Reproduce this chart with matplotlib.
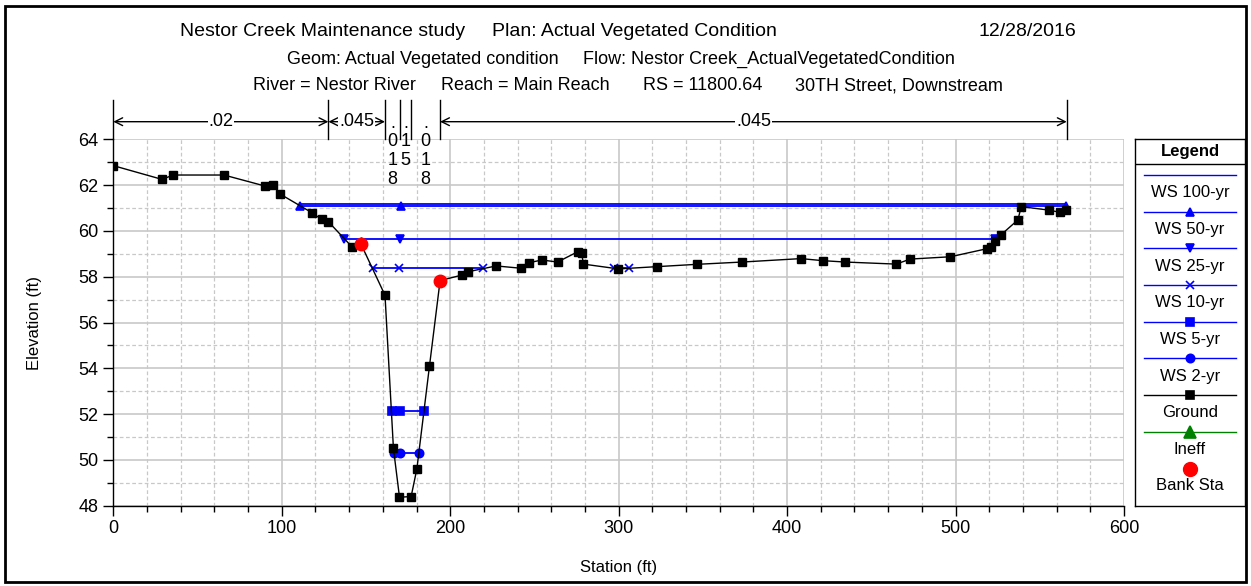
import matplotlib
matplotlib.use("Agg")
import matplotlib.pyplot as plt
from matplotlib.patches import Rectangle
from matplotlib.ticker import MultipleLocator

plt.rcParams['font.family'] = ['Liberation Sans', 'DejaVu Sans']

W, H = 1251, 586

# ground survey points (station ft, elevation ft)
ground_sta = [0, 28.9, 35.6, 65.7, 90, 95, 99, 117.8, 123.7, 127.7, 141.6, 147, 161.3,
              166.3, 169.9, 176.8, 180.2, 187.7, 194, 206.9, 210.8, 227.3, 241.9, 246.8,
              254.4, 263.7, 276, 278, 279.1, 299.9, 323, 346.4, 373.2, 408.2, 421.3, 434.5,
              464.8, 473.1, 496.9, 518.5, 521, 523.5, 527, 537, 539, 555.2, 562.2, 565.7]
ground_elev = [62.85, 62.25, 62.44, 62.44, 61.96, 62.0, 61.61, 60.8, 60.5, 60.4, 59.31, 59.43, 57.19,
               50.5, 48.37, 48.4, 49.6, 54.1, 57.83, 58.07, 58.22, 58.47, 58.37, 58.61,
               58.73, 58.64, 59.1, 59.03, 58.55, 58.34, 58.44, 58.54, 58.64, 58.79, 58.7, 58.64,
               58.55, 58.77, 58.87, 59.22, 59.3, 59.55, 59.83, 60.48, 61.06, 60.91, 60.81, 60.91]

bank_sta = [147, 194]
bank_elev = [59.43, 57.83]
ineff_sta = [147]
ineff_elev = [59.5]

# water surface profiles
ws_names = ['WS 100-yr', 'WS 50-yr', 'WS 25-yr', 'WS 10-yr', 'WS 5-yr', 'WS 2-yr']
ws_elev = [61.17, 61.10, 59.64, 58.37, 52.14, 50.31]
ws_segments = [
    [(111, 565.7)],
    [(111, 565.7)],
    [(137.2, 523.6)],
    [(154, 219.7), (297.5, 306.4)],
    [(165.3, 184.5)],
    [(166.9, 181.5)],
]
ws_marker_sta = [
    [],
    [111, 170.5, 565.7],
    [137.2, 170.3, 523.6],
    [154, 169.8, 219.7, 297.5, 306.4],
    [165.3, 170.2, 184.5],
    [166.9, 170.2, 181.5],
]
ws_markers = [None, '^', 'v', 'x', 's', 'o']

# Manning's n regions
n_breaks = [0, 127.7, 161.3, 170.2, 176.8, 194, 566]
n_labels = ['.02', '.045', '.018', '.15', '.018', '.045']

fig = plt.figure(figsize=(W / 100, H / 100), dpi=100)


def fx(px):
    return px / W


def fy(py):
    return 1 - py / H


ax = fig.add_axes([fx(113.3), fy(505.7), fx(1124) - fx(113.3), fy(139.3) - fy(505.7)])
ax.set_xlim(0, 600)
ax.set_ylim(48, 64)
ax.xaxis.set_major_locator(MultipleLocator(100))
ax.xaxis.set_minor_locator(MultipleLocator(20))
ax.yaxis.set_major_locator(MultipleLocator(2))
ax.yaxis.set_minor_locator(MultipleLocator(1))
ax.grid(which='major', color='#c8c8c8', lw=1.2, ls='-')
ax.grid(which='minor', color='#c8c8c8', lw=0.9, ls=(0, (3, 2)))
ax.set_axisbelow(True)
for s in ['top', 'right']:
    ax.spines[s].set_visible(False)
ax.spines['left'].set_linewidth(1.0)
ax.spines['bottom'].set_linewidth(1.0)
ax.tick_params(which='major', direction='out', length=7, width=1, labelsize=13)
ax.tick_params(which='minor', direction='out', length=4, width=1)
ax.set_xlabel('Station (ft)', fontsize=12, labelpad=16)
ax.set_ylabel('Elevation (ft)', fontsize=12, labelpad=26)

blue = '#0000ff'
for name, e, segs, msta, mk in zip(ws_names, ws_elev, ws_segments, ws_marker_sta, ws_markers):
    for a, b in segs:
        ax.plot([a, b], [e, e], color=blue, lw=1.3, zorder=3)
    if mk:
        ax.plot(msta, [e] * len(msta), ls='none', marker=mk, color=blue,
                ms=6, mew=1.2, zorder=4)

ax.plot(ground_sta, ground_elev, color='black', lw=1.0, marker='s', ms=5.5, zorder=5)
ax.plot(ineff_sta, ineff_elev, ls='none', marker='^', color='green', ms=7, zorder=5)
ax.plot(bank_sta, bank_elev, ls='none', marker='o', color='red', ms=9, zorder=6)


# Manning's n bar above the plot
def ey(py):
    return 64 + (139.3 - py) / 22.9


for b in n_breaks:
    ax.plot([b, b], [ey(100), 64], color='black', lw=1.0, clip_on=False)
for (a, b), lab in zip(zip(n_breaks[:-1], n_breaks[1:]), n_labels):
    mid = (a + b) / 2
    if b - a > 20:
        ax.annotate('', xy=(a, ey(121.7)), xytext=(b, ey(121.7)), annotation_clip=False,
                    arrowprops=dict(arrowstyle='<->', color='black', lw=1.0,
                                    shrinkA=0, shrinkB=0, mutation_scale=14))
        ax.text(mid, ey(121.7), lab, ha='center', va='center', fontsize=13, clip_on=False,
                bbox=dict(facecolor='white', edgecolor='none', pad=0.5))
    else:
        ax.text(mid, ey(127.5), lab[0], ha='center', va='baseline', fontsize=13, clip_on=False)
        for k, ch in enumerate(lab[1:]):
            ax.text(mid, ey(141.7 + 18.7 * k), ch, ha='center', va='center',
                    fontsize=13, clip_on=False)

# header lines
fig.text(fx(180), fy(31), 'Nestor Creek Maintenance study', fontsize=14, va='center')
fig.text(fx(492), fy(31), 'Plan: Actual Vegetated Condition', fontsize=14, va='center')
fig.text(fx(1076), fy(31), '12/28/2016', fontsize=14, va='center', ha='right')
fig.text(fx(287), fy(59), 'Geom: Actual Vegetated condition', fontsize=13, va='center')
fig.text(fx(955), fy(59), 'Flow: Nestor Creek_ActualVegetatedCondition', fontsize=13,
         va='center', ha='right')
fig.text(fx(334.5), fy(86), 'River = Nestor River', fontsize=13, va='center', ha='center')
fig.text(fx(525), fy(86), 'Reach = Main Reach', fontsize=13, va='center', ha='center')
fig.text(fx(703), fy(86), 'RS = 11800.64', fontsize=13, va='center', ha='center')
fig.text(fx(899), fy(86), '30TH Street, Downstream', fontsize=13, va='center', ha='center')

# legend panel
lg = fig.add_axes([fx(1135), fy(506), fx(1245) - fx(1135), fy(139.3) - fy(506)])
lg.set_xlim(1135, 1245)
lg.set_ylim(506, 139.3)
lg.set_xticks([])
lg.set_yticks([])
for s in lg.spines.values():
    s.set_linewidth(1.0)
lg.axhline(164.3, color='black', lw=1.0)
lg.text(1190, 151.5, 'Legend', ha='center', va='center', fontsize=12, fontweight='bold')
entries = list(zip(ws_names, ws_markers, [blue] * 6)) + [('Ground', 's', 'black'), ('Ineff', '^', 'green')]
for i, (name, mk, col) in enumerate(entries):
    yl = 175 + 36.7 * i
    lg.plot([1144, 1236], [yl, yl], color=col, lw=1.0)
    if mk:
        ms = 9 if name == 'Ineff' else 6
        lg.plot([1190], [yl], marker=mk, color=col, ms=ms, mew=1.2)
    lg.text(1190, yl + 17.7, name, ha='center', va='center', fontsize=12)
lg.plot([1190], [469.3], marker='o', color='red', ms=10)
lg.text(1190, 485.5, 'Bank Sta', ha='center', va='center', fontsize=12)

# outer frame
fig.patches.append(Rectangle((fx(5), fy(582)), fx(1246) - fx(5), fy(6) - fy(582),
                             transform=fig.transFigure, fill=False, edgecolor='black', lw=2))

fig.savefig('out.png', dpi=100)
